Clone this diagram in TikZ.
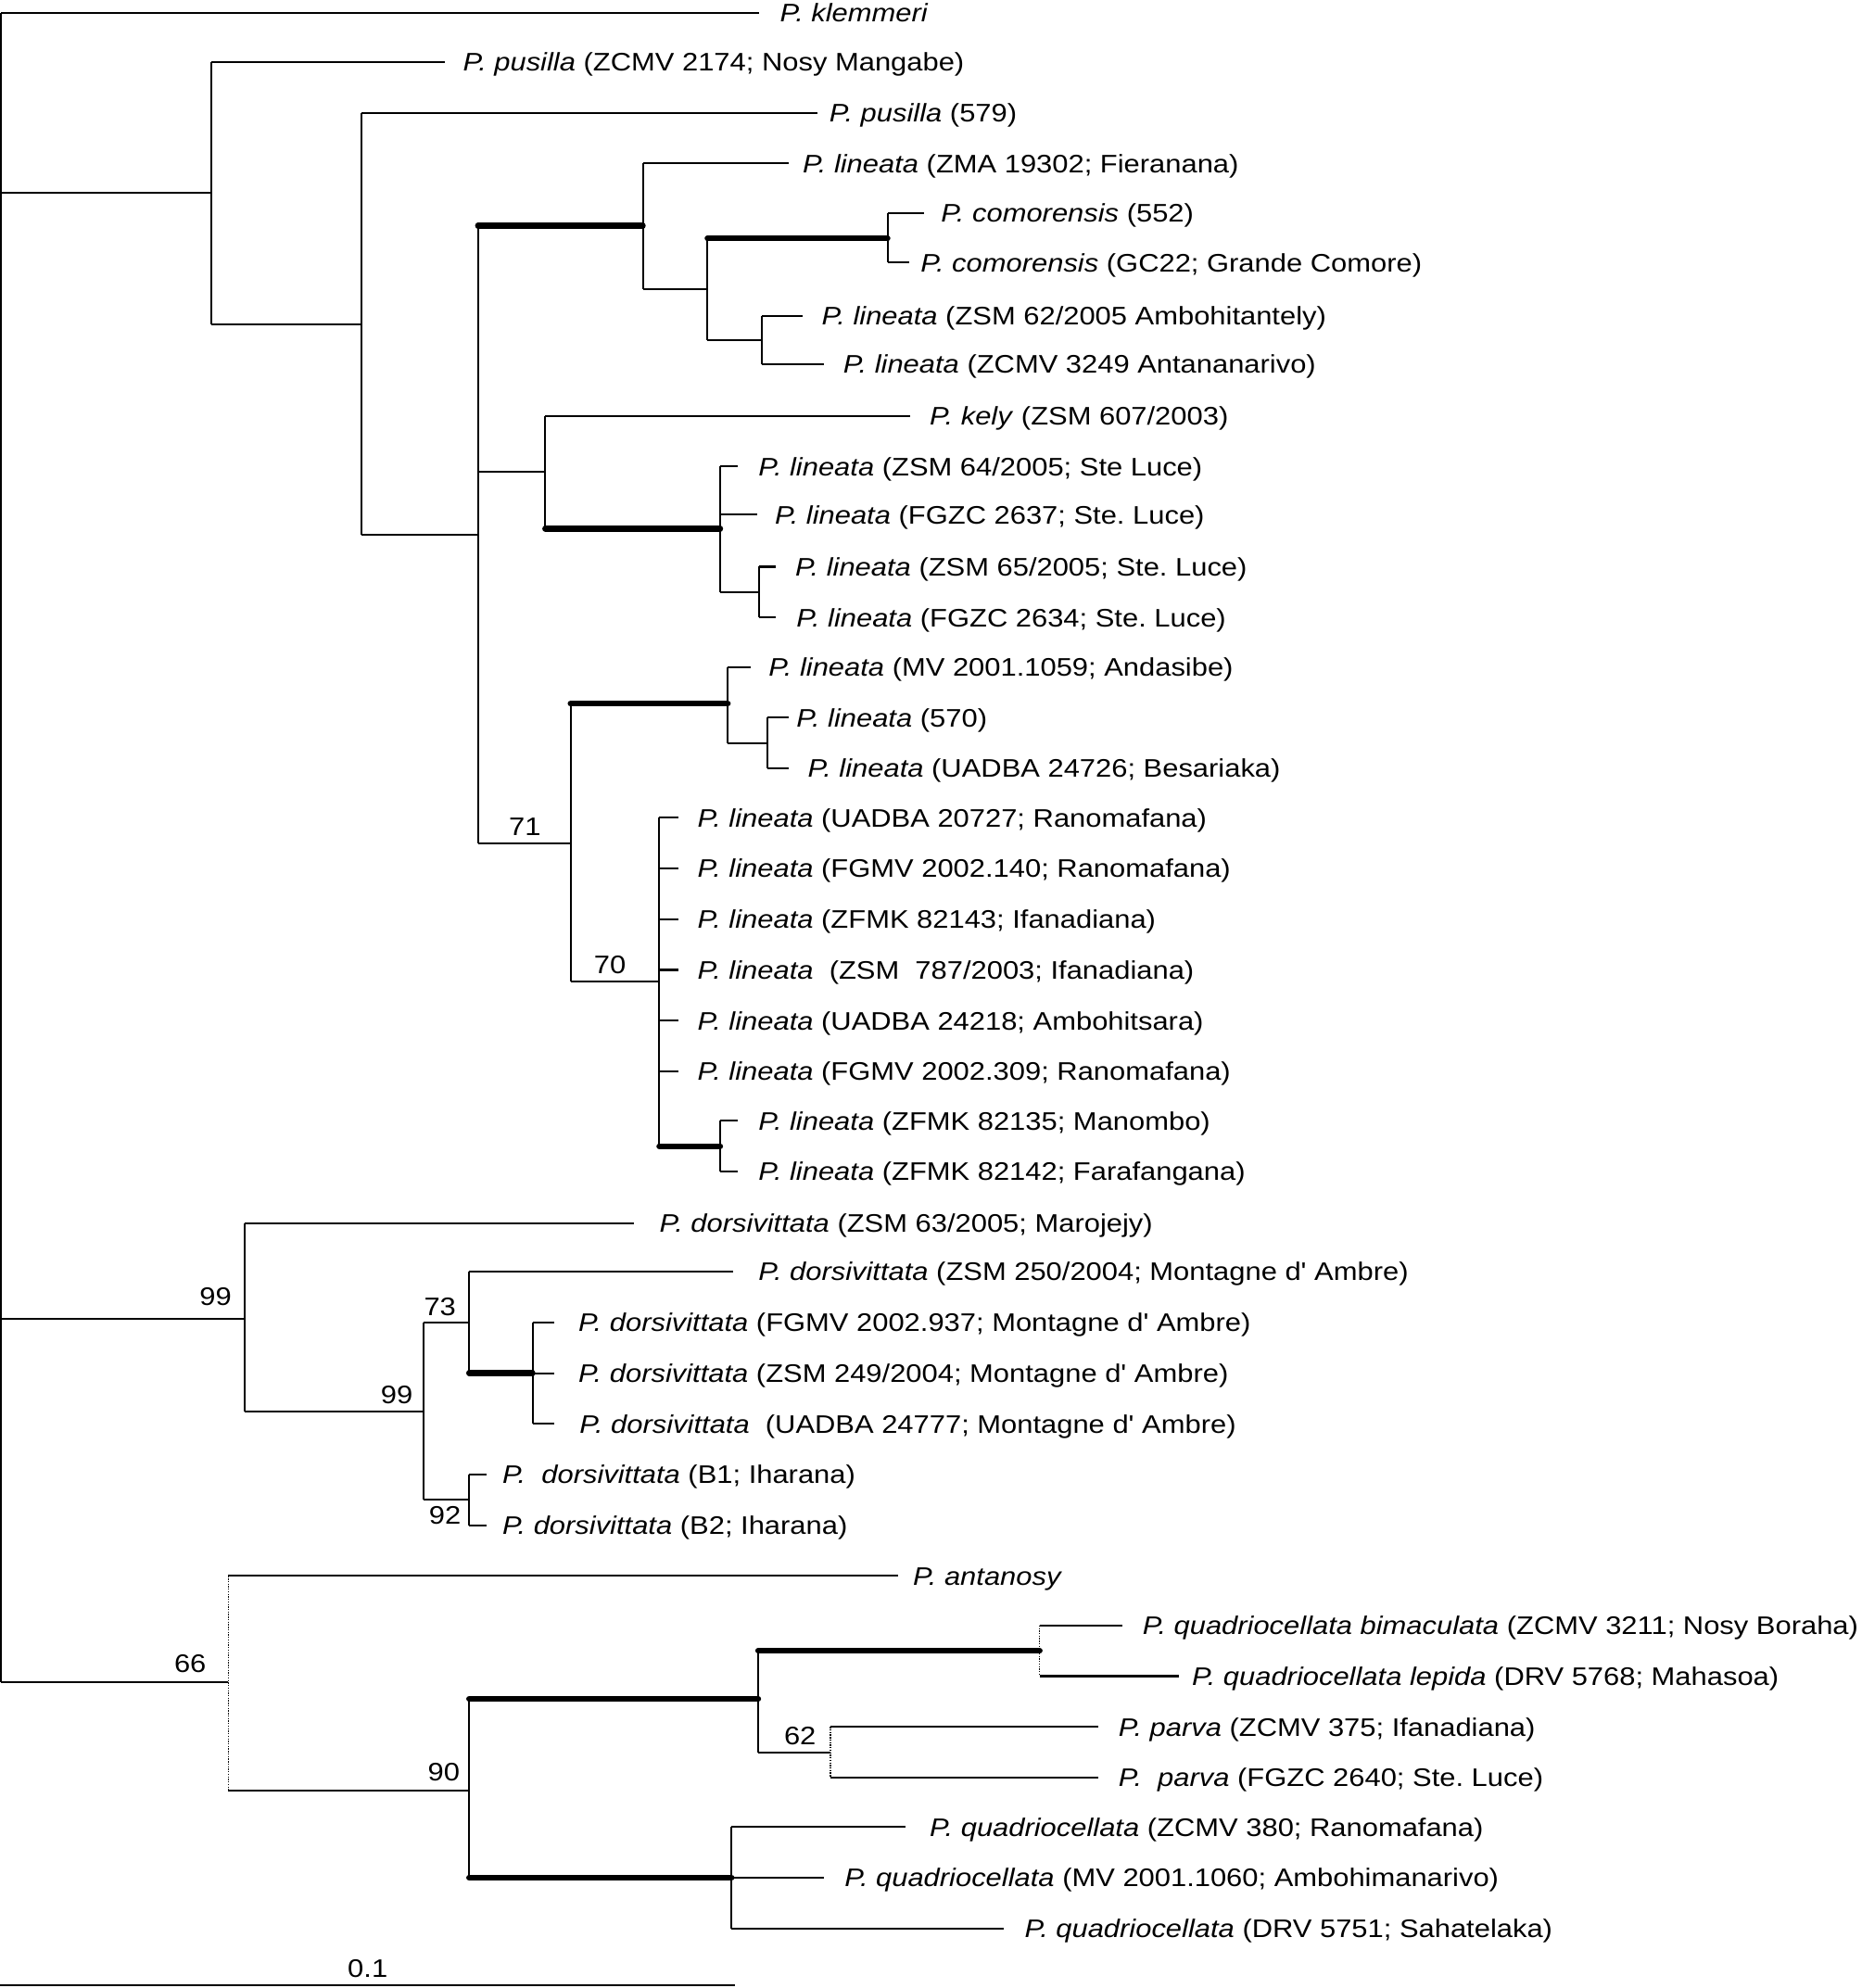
\documentclass[tikz,border=0pt]{standalone}
\usepackage{fontspec}
\newfontfamily\labfont[FakeStretch=1.13]{Liberation Sans}
\begin{document}
\frenchspacing
\begin{tikzpicture}[x=1pt,y=-1pt,
  br/.style={line width=1.5pt},
  thk/.style={line width=4.6pt, line cap=round},
  dotbr/.style={line width=1pt, densely dotted},
  lab/.style={anchor=base west, inner sep=0pt, yshift=-7.2pt, font=\labfont\fontsize{20}{24}\selectfont},
  bs/.style={anchor=center, inner sep=0pt, font=\labfont\fontsize{20}{24}\selectfont}]
\useasboundingbox (0,0) rectangle (1468,1568);
% internal nodes
\coordinate (R) at (1,10);
\coordinate (A) at (167,152);
\coordinate (B) at (285,256);
\coordinate (C) at (377,422);
\coordinate (D) at (507,178);
\coordinate (E) at (558,228);
\coordinate (F) at (700,188);
\coordinate (G) at (601,268);
\coordinate (H) at (430,372);
\coordinate (I) at (568,417);
\coordinate (J) at (599,467);
\coordinate (K) at (450,665);
\coordinate (M) at (574,555);
\coordinate (N) at (605,586);
\coordinate (O) at (520,774);
\coordinate (P) at (568,904);
\coordinate (Q) at (193,1040);
\coordinate (S) at (334,1113);
\coordinate (T) at (370,1043);
\coordinate (U) at (420,1083);
\coordinate (V) at (370,1183);
\coordinate (W) at (180,1327);
\coordinate (X) at (370,1412);
\coordinate (Y) at (598,1340);
\coordinate (Z) at (820,1302);
\coordinate (AA) at (655,1382);
\coordinate (AB) at (577,1481);
% leaf tips
\coordinate (L1) at (599,10);
\coordinate (L2) at (351,49);
\coordinate (L3) at (645,89);
\coordinate (L4) at (622,129);
\coordinate (L5) at (729,168);
\coordinate (L6) at (717,207);
\coordinate (L7) at (633,249);
\coordinate (L8) at (650,287);
\coordinate (L9) at (718,328);
\coordinate (L10) at (582,368);
\coordinate (L11) at (597,406);
\coordinate (L12) at (612,447);
\coordinate (L13) at (612,487);
\coordinate (L14) at (592,526);
\coordinate (L15) at (622,566);
\coordinate (L16) at (622,606);
\coordinate (L17) at (535,645);
\coordinate (L18) at (535,685);
\coordinate (L19) at (535,725);
\coordinate (L20) at (535,765);
\coordinate (L21) at (535,805);
\coordinate (L22) at (535,845);
\coordinate (L23) at (582,884);
\coordinate (L24) at (582,924);
\coordinate (L25) at (500,965);
\coordinate (L26) at (578,1003);
\coordinate (L27) at (437,1043);
\coordinate (L28) at (437,1083);
\coordinate (L29) at (437,1123);
\coordinate (L30) at (384,1163);
\coordinate (L31) at (384,1203);
\coordinate (L32) at (708,1243);
\coordinate (L33) at (885,1282);
\coordinate (L34) at (930,1322);
\coordinate (L35) at (866,1362);
\coordinate (L36) at (866,1402);
\coordinate (L37) at (714,1441);
\coordinate (L38) at (650,1481);
\coordinate (L39) at (792,1521);
% verticals
\draw[br] (R) -- (R |- W);
\draw[br] (A |- L2) -- (A |- B);
\draw[br] (B |- L3) -- (B |- C);
\draw[br] (C |- D) -- (C |- K);
\draw[br] (D |- L4) -- (D |- E);
\draw[br] (E |- F) -- (E |- G);
\draw[br] (F |- L5) -- (F |- L6);
\draw[br] (G |- L7) -- (G |- L8);
\draw[br] (H |- L9) -- (H |- I);
\draw[br] (I |- L10) -- (I |- J);
\draw[br] (J |- L12) -- (J |- L13);
\draw[br] (K |- M) -- (K |- O);
\draw[br] (M |- L14) -- (M |- N);
\draw[br] (N |- L15) -- (N |- L16);
\draw[br] (O |- L17) -- (O |- P);
\draw[br] (P |- L23) -- (P |- L24);
\draw[br] (Q |- L25) -- (Q |- S);
\draw[br] (S |- T) -- (S |- V);
\draw[br] (T |- L26) -- (T |- U);
\draw[br] (U |- L27) -- (U |- L29);
\draw[br] (V |- L30) -- (V |- L31);
\draw[dotbr] (W |- L32) -- (W |- X);
\draw[br] (X |- Y) -- (X |- AB);
\draw[br] (Y |- Z) -- (Y |- AA);
\draw[dotbr] (Z |- L33) -- (Z |- L34);
\draw[dotbr] (AA |- L35) -- (AA |- L36);
\draw[br] (AB |- L37) -- (AB |- L39);
% thin horizontal branches
\draw[br] (R |- L1) -- (L1);
\draw[br] (R |- A) -- (A);
\draw[br] (R |- Q) -- (Q);
\draw[br] (R |- W) -- (W);
\draw[br] (A |- L2) -- (L2);
\draw[br] (A |- B) -- (B);
\draw[br] (B |- L3) -- (L3);
\draw[br] (B |- C) -- (C);
\draw[br] (C |- H) -- (H);
\draw[br] (C |- K) -- (K);
\draw[br] (D |- L4) -- (L4);
\draw[br] (D |- E) -- (E);
\draw[br] (E |- G) -- (G);
\draw[br] (F |- L5) -- (L5);
\draw[br] (F |- L6) -- (L6);
\draw[br] (G |- L7) -- (L7);
\draw[br] (G |- L8) -- (L8);
\draw[br] (H |- L9) -- (L9);
\draw[br] (I |- L10) -- (L10);
\draw[br] (I |- L11) -- (L11);
\draw[br] (I |- J) -- (J);
\draw[br] (J |- L12) -- (L12);
\draw[br] (J |- L13) -- (L13);
\draw[br] (K |- O) -- (O);
\draw[br] (M |- L14) -- (L14);
\draw[br] (M |- N) -- (N);
\draw[br] (N |- L15) -- (L15);
\draw[br] (N |- L16) -- (L16);
\draw[br] (O |- L17) -- (L17);
\draw[br] (O |- L18) -- (L18);
\draw[br] (O |- L19) -- (L19);
\draw[br] (O |- L20) -- (L20);
\draw[br] (O |- L21) -- (L21);
\draw[br] (O |- L22) -- (L22);
\draw[br] (P |- L23) -- (L23);
\draw[br] (P |- L24) -- (L24);
\draw[br] (Q |- L25) -- (L25);
\draw[br] (Q |- S) -- (S);
\draw[br] (S |- T) -- (T);
\draw[br] (S |- V) -- (V);
\draw[br] (T |- L26) -- (L26);
\draw[br] (U |- L27) -- (L27);
\draw[br] (U |- L28) -- (L28);
\draw[br] (U |- L29) -- (L29);
\draw[br] (V |- L30) -- (L30);
\draw[br] (V |- L31) -- (L31);
\draw[br] (W |- L32) -- (L32);
\draw[br] (W |- X) -- (X);
\draw[br] (Y |- AA) -- (AA);
\draw[br] (Z |- L33) -- (L33);
\draw[br] (Z |- L34) -- (L34);
\draw[br] (AA |- L35) -- (L35);
\draw[br] (AA |- L36) -- (L36);
\draw[br] (AB |- L37) -- (L37);
\draw[br] (AB |- L38) -- (L38);
\draw[br] (AB |- L39) -- (L39);
% thick branches
\draw[thk] (C |- D) -- (D);
\draw[thk] (E |- F) -- (F);
\draw[thk] (H |- I) -- (I);
\draw[thk] (K |- M) -- (M);
\draw[thk] (O |- P) -- (P);
\draw[thk] (T |- U) -- (U);
\draw[thk] (X |- Y) -- (Y);
\draw[thk] (Y |- Z) -- (Z);
\draw[thk] (X |- AB) -- (AB);
% labels
\node[lab] (t1) at (615,10) {\textit{P. klemmeri}};
\node[lab] (t2) at (365,49) {\textit{P. pusilla} (ZCMV 2174; Nosy Mangabe)};
\node[lab] (t3) at (654,89) {\textit{P. pusilla} (579)};
\node[lab] (t4) at (633,129) {\textit{P. lineata} (ZMA 19302; Fieranana)};
\node[lab] (t5) at (742,168) {\textit{P. comorensis} (552)};
\node[lab] (t6) at (726,207) {\textit{P. comorensis} (GC22; Grande Comore)};
\node[lab] (t7) at (648,249) {\textit{P. lineata} (ZSM 62/2005 Ambohitantely)};
\node[lab] (t8) at (665,287) {\textit{P. lineata} (ZCMV 3249 Antananarivo)};
\node[lab] (t9) at (733,328) {\textit{P. kely} (ZSM 607/2003)};
\node[lab] (t10) at (598,368) {\textit{P. lineata} (ZSM 64/2005; Ste Luce)};
\node[lab] (t11) at (611,406) {\textit{P. lineata} (FGZC 2637; Ste. Luce)};
\node[lab] (t12) at (627,447) {\textit{P. lineata} (ZSM 65/2005; Ste. Luce)};
\node[lab] (t13) at (628,487) {\textit{P. lineata} (FGZC 2634; Ste. Luce)};
\node[lab] (t14) at (606,526) {\textit{P. lineata} (MV 2001.1059; Andasibe)};
\node[lab] (t15) at (628,566) {\textit{P. lineata} (570)};
\node[lab] (t16) at (637,606) {\textit{P. lineata} (UADBA 24726; Besariaka)};
\node[lab] (t17) at (550,645) {\textit{P. lineata} (UADBA 20727; Ranomafana)};
\node[lab] (t18) at (550,685) {\textit{P. lineata} (FGMV 2002.140; Ranomafana)};
\node[lab] (t19) at (550,725) {\textit{P. lineata} (ZFMK 82143; Ifanadiana)};
\node[lab] (t20) at (550,765) {\textit{P. lineata}\ \ (ZSM\ \ 787/2003; Ifanadiana)};
\node[lab] (t21) at (550,805) {\textit{P. lineata} (UADBA 24218; Ambohitsara)};
\node[lab] (t22) at (550,845) {\textit{P. lineata} (FGMV 2002.309; Ranomafana)};
\node[lab] (t23) at (598,884) {\textit{P. lineata} (ZFMK 82135; Manombo)};
\node[lab] (t24) at (598,924) {\textit{P. lineata} (ZFMK 82142; Farafangana)};
\node[lab] (t25) at (520,965) {\textit{P. dorsivittata} (ZSM 63/2005; Marojejy)};
\node[lab] (t26) at (598,1003) {\textit{P. dorsivittata} (ZSM 250/2004; Montagne d' Ambre)};
\node[lab] (t27) at (456,1043) {\textit{P. dorsivittata} (FGMV 2002.937; Montagne d' Ambre)};
\node[lab] (t28) at (456,1083) {\textit{P. dorsivittata} (ZSM 249/2004; Montagne d' Ambre)};
\node[lab] (t29) at (457,1123) {\textit{P. dorsivittata}\ \ (UADBA 24777; Montagne d' Ambre)};
\node[lab] (t30) at (396,1163) {\textit{P.\ \ dorsivittata} (B1; Iharana)};
\node[lab] (t31) at (396,1203) {\textit{P. dorsivittata} (B2; Iharana)};
\node[lab] (t32) at (720,1243) {\textit{P. antanosy}};
\node[lab] (t33) at (901,1282) {\textit{P. quadriocellata bimaculata} (ZCMV 3211; Nosy Boraha)};
\node[lab] (t34) at (940,1322) {\textit{P. quadriocellata lepida} (DRV 5768; Mahasoa)};
\node[lab] (t35) at (882,1362) {\textit{P. parva} (ZCMV 375; Ifanadiana)};
\node[lab] (t36) at (882,1402) {\textit{P.\ \ parva} (FGZC 2640; Ste. Luce)};
\node[lab] (t37) at (733,1441) {\textit{P. quadriocellata} (ZCMV 380; Ranomafana)};
\node[lab] (t38) at (666,1481) {\textit{P. quadriocellata} (MV 2001.1060; Ambohimanarivo)};
\node[lab] (t39) at (808,1521) {\textit{P. quadriocellata} (DRV 5751; Sahatelaka)};
% bootstrap values
\node[bs] (b71) at (414,652) {71};
\node[bs] (b70) at (481,761) {70};
\node[bs] (b99a) at (170,1023) {99};
\node[bs] (b99b) at (313,1100) {99};
\node[bs] (b73) at (347,1031) {73};
\node[bs] (b92) at (351,1195) {92};
\node[bs] (b66) at (150,1312) {66};
\node[bs] (b90) at (350,1398) {90};
\node[bs] (b62) at (631,1369) {62};
% scale bar
\coordinate (sb1) at (0,1566);
\coordinate (sb2) at (580,1566);
\draw[br] (sb1) -- (sb2);
\node[bs] (sbl) at (290,1553) {0.1};
\end{tikzpicture}
\end{document}
